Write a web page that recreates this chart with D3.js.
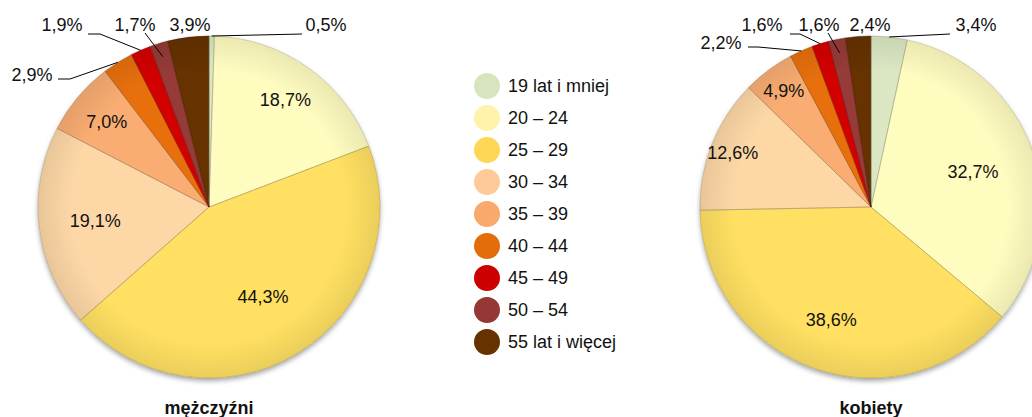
<!DOCTYPE html>
<html>
<head>
<meta charset="utf-8">
<script src="https://cdn.jsdelivr.net/npm/d3@7"></script>
<style>
  body { margin: 0; background: #fff; }
  svg { display: block; font-family: "Liberation Sans", Arial, sans-serif; }
</style>
</head>
<body>
<svg id="chart" width="1032" height="417"></svg>
<script>
// age groups (legend order = slice order, clockwise from 12 o'clock)
const categories = ['19 lat i mniej', '20 – 24', '25 – 29', '30 – 34', '35 – 39',
  '40 – 44', '45 – 49', '50 – 54', '55 lat i więcej'];
const menValues = [0.5, 18.7, 44.3, 19.1, 7.0, 2.9, 1.9, 1.7, 3.9];
const womenValues = [3.4, 32.7, 38.6, 12.6, 4.9, 2.2, 1.6, 1.6, 2.4];
const pieTitles = ['mężczyźni', 'kobiety'];

const sliceColors = ['#dbe7c3', '#fffcc0', '#ffe062', '#fdd7a6', '#f9ad72',
  '#e7700e', '#d30505', '#963a38', '#653003'];
const legendColors = ['#d7e4bd', '#fff2ab', '#ffd757', '#ffca99', '#f8a96b',
  '#e46c0a', '#cc0000', '#953735', '#663300'];

// label placement, Excel "best fit" style
// inside: radius factor; outside: position from centre + leader start offset
const layouts = [
  {
    cx: 209, cy: 207,
    inside: { 1: 0.77, 2: 0.61, 3: 0.67, 4: 0.78 },
    outside: {
      0: { x: 117, y: -182, ax: -24, ay: 9 },
      5: { x: -177, y: -132, ax: 26, ay: 4, elbow: 12 },
      6: { x: -147, y: -182, ax: 26, ay: 9, elbow: 12 },
      7: { x: -74, y: -182, ax: 10, ay: 8, end: 0.92 },
      8: { x: -19, y: -182 }
    }
  },
  {
    cx: 871, cy: 207,
    inside: { 1: 0.63, 2: 0.70, 3: 0.87, 4: 0.85 },
    outside: {
      0: { x: 105, y: -182, ax: -26, ay: 9 },
      5: { x: -150, y: -164, ax: 27, ay: 4, elbow: 10 },
      6: { x: -109, y: -182, ax: 28, ay: 9, elbow: 10 },
      7: { x: -52, y: -182, ax: 9, ay: 8, end: 0.92 },
      8: { x: -1, y: -182 }
    }
  }
];

const radius = 171;
const loc = d3.formatLocale({ decimal: ',', thousands: ' ', grouping: [3], currency: ['', ''] });
const fmt = loc.format('.1f');

const svg = d3.select('#chart');
const defs = svg.append('defs');

// soft shadow under the pies
const shadow = defs.append('filter').attr('id', 'shadow')
  .attr('x', '-10%').attr('y', '-10%').attr('width', '120%').attr('height', '125%');
shadow.append('feDropShadow')
  .attr('dx', 0).attr('dy', 3).attr('stdDeviation', 2.5)
  .attr('flood-color', '#000').attr('flood-opacity', 0.35);

// darker rim towards the edge
const rim = defs.append('radialGradient').attr('id', 'rim');
rim.append('stop').attr('offset', '80%').attr('stop-color', '#000').attr('stop-opacity', 0);
rim.append('stop').attr('offset', '100%').attr('stop-color', '#000').attr('stop-opacity', 0.08);

const pie = d3.pie().sort(null).value(d => d);
const arc = d3.arc().innerRadius(0).outerRadius(radius);

function drawPie(values, layout, title, k) {
  const g = svg.append('g').attr('transform', `translate(${layout.cx},${layout.cy})`);
  const arcs = pie(values);

  const body = g.append('g').attr('filter', 'url(#shadow)');
  body.selectAll('path.slice')
    .data(arcs)
    .join('path')
      .attr('class', 'slice')
      .attr('d', arc)
      .attr('fill', (d, i) => sliceColors[i]);

  // bevel: light inner band clipped to each slice
  arcs.forEach((d, i) => {
    const id = `clip${k}_${i}`;
    defs.append('clipPath').attr('id', id).append('path').attr('d', arc(d))
      .attr('transform', `translate(${layout.cx},${layout.cy})`);
    svg.append('path')
      .attr('transform', `translate(${layout.cx},${layout.cy})`)
      .attr('d', arc(d))
      .attr('clip-path', `url(#${id})`)
      .attr('fill', 'none')
      .attr('stroke', '#fff')
      .attr('stroke-opacity', 0.45)
      .attr('stroke-width', 9);
  });

  const top = svg.append('g').attr('transform', `translate(${layout.cx},${layout.cy})`);
  top.append('circle').attr('r', radius).attr('fill', 'url(#rim)');
  top.selectAll('path.edge')
    .data(arcs)
    .join('path')
      .attr('class', 'edge')
      .attr('d', arc)
      .attr('fill', 'none')
      .attr('stroke', (d, i) => d3.color(sliceColors[i]).darker(1.2))
      .attr('stroke-opacity', 0.55)
      .attr('stroke-width', 0.8);

  // inside labels
  arcs.forEach((d, i) => {
    const f = layout.inside[i];
    if (f === undefined) return;
    const a = (d.startAngle + d.endAngle) / 2;
    top.append('text')
      .attr('x', Math.sin(a) * radius * f)
      .attr('y', -Math.cos(a) * radius * f)
      .attr('dy', '0.35em')
      .attr('text-anchor', 'middle')
      .attr('font-size', 18)
      .attr('fill', '#111')
      .text(fmt(d.value) + '%');
  });

  // outside labels with leader lines
  arcs.forEach((d, i) => {
    const o = layout.outside[i];
    if (!o) return;
    const a = (d.startAngle + d.endAngle) / 2;
    if (o.ax !== undefined) {
      const r = radius * (o.end || 1);
      const pts = [[o.x + o.ax, o.y + o.ay]];
      if (o.elbow) pts.push([o.x + o.ax + o.elbow, o.y + o.ay]);
      pts.push([Math.sin(a) * r, -Math.cos(a) * r]);
      top.append('path')
        .attr('d', d3.line()(pts))
        .attr('fill', 'none')
        .attr('stroke', '#000')
        .attr('stroke-width', 1);
    }
    top.append('text')
      .attr('x', o.x)
      .attr('y', o.y)
      .attr('dy', '0.35em')
      .attr('text-anchor', 'middle')
      .attr('font-size', 18)
      .attr('fill', '#111')
      .text(fmt(d.value) + '%');
  });

  svg.append('text')
    .attr('x', layout.cx)
    .attr('y', 414)
    .attr('text-anchor', 'middle')
    .attr('font-size', 18)
    .attr('font-weight', 'bold')
    .attr('fill', '#111')
    .text(title);
}

drawPie(menValues, layouts[0], pieTitles[0], 0);
drawPie(womenValues, layouts[1], pieTitles[1], 1);

// legend
const ly = d3.scalePoint().domain(categories).range([86, 342]);
const legend = svg.append('g');
const row = legend.selectAll('g')
  .data(categories)
  .join('g')
    .attr('transform', d => `translate(487,${ly(d)})`);
row.append('circle')
  .attr('r', 13)
  .attr('fill', (d, i) => legendColors[i]);
row.append('text')
  .attr('x', 21)
  .attr('dy', '0.35em')
  .attr('font-size', 18)
  .attr('fill', '#111')
  .text(d => d);
</script>
</body>
</html>
